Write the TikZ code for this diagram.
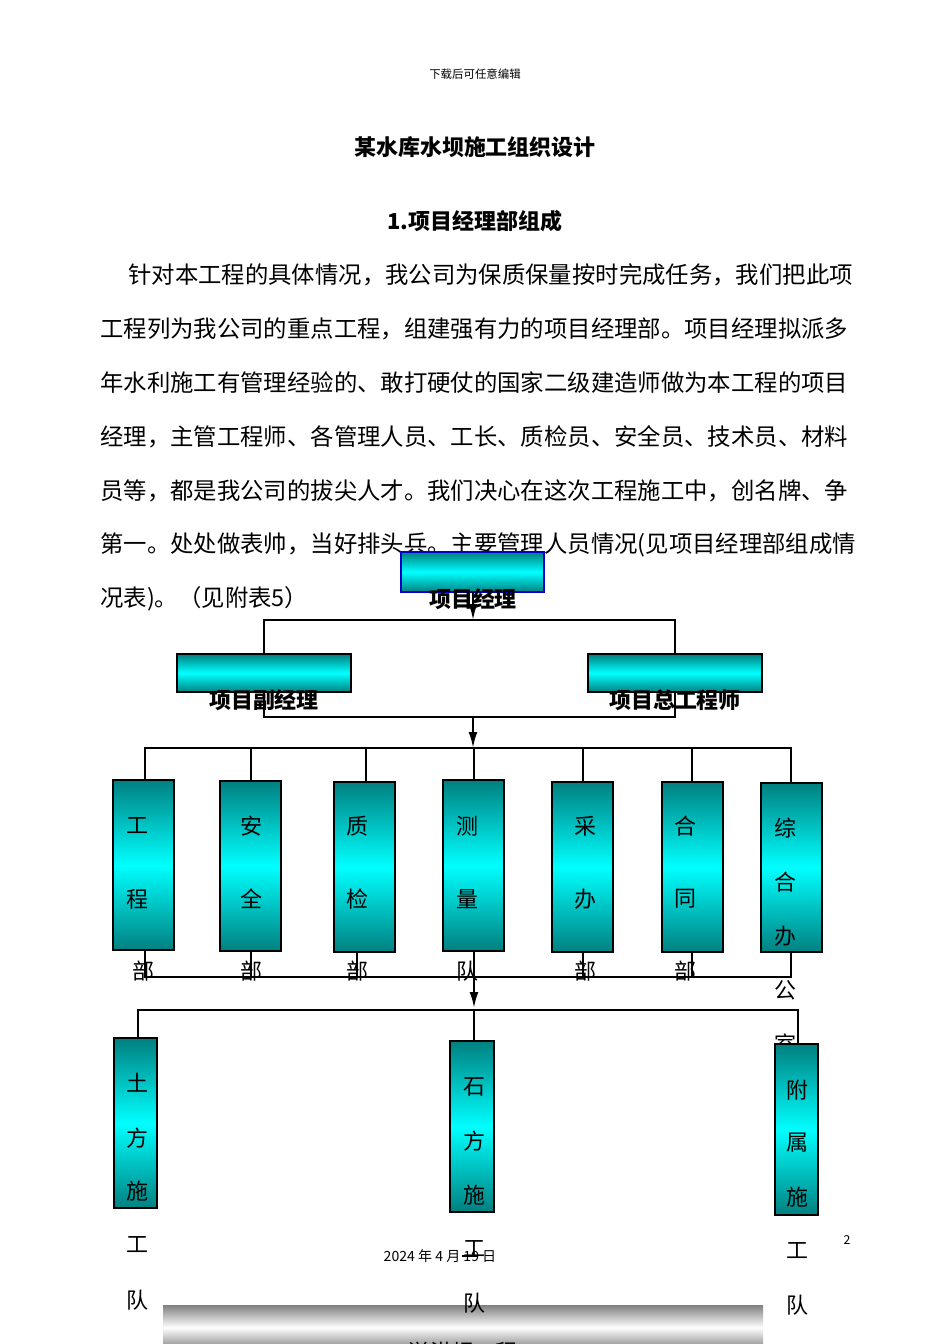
\documentclass[tikz,border=0pt]{standalone}
\usepackage{fontspec}
\setmainfont{Noto Sans CJK SC}
\usetikzlibrary{arrows.meta}
\begin{document}
\begin{tikzpicture}[x=0.02cm,y=-0.02cm,
  body/.style={anchor=west,inner sep=0pt,font=\fontsize{13.3pt}{14pt}\selectfont},
  gbox/.style={draw=black,line width=1.2pt,top color=teal,bottom color=teal,middle color=cyan,shading angle=0},
  lab/.style={inner sep=0pt,font=\fontsize{12.5pt}{13pt}\selectfont\bfseries},
  vch/.style={inner sep=0pt,font=\fontsize{12.5pt}{13pt}\selectfont},
  ln/.style={line width=1.2pt},
  arr/.style={line width=1.2pt,-{Latex[length=9pt,width=5pt]}}]
\useasboundingbox (0,0) rectangle (950,1344);
\begin{scope}
\clip (0,0) rectangle (950,1344);
\draw[draw=none,top color=gray,bottom color=gray,middle color=white,shading angle=0] (163,1305) rectangle (763,1350);
\node[inner sep=0pt,font=\fontsize{6.5pt}{7pt}\selectfont] (hd) at (475,74) {下载后可任意编辑};
\node[inner sep=0pt,font=\fontsize{12.5pt}{13pt}\selectfont\bfseries] (tt) at (475,147) {某水库水坝施工组织设计};
\node[inner sep=0pt,font=\fontsize{12.5pt}{13pt}\selectfont\bfseries] (st) at (475,221) {1.项目经理部组成};
\node[body] (l1) at (128,275) {针对本工程的具体情况，我公司为保质保量按时完成任务，我们把此项};
\node[body] (l2) at (100,329) {工程列为我公司的重点工程，组建强有力的项目经理部。项目经理拟派多};
\node[body] (l3) at (100,383) {年水利施工有管理经验的、敢打硬仗的国家二级建造师做为本工程的项目};
\node[body] (l4) at (100,437) {经理，主管工程师、各管理人员、工长、质检员、安全员、技术员、材料};
\node[body] (l5) at (100,491) {员等，都是我公司的拔尖人才。我们决心在这次工程施工中，创名牌、争};
\node[body] (l6) at (100,545) {第一。处处做表帅，当好排头兵。主要管理人员情况(见项目经理部组成情};
\node[body] (l7) at (100,599) {况表)。（见附表5）};

% top
\draw[line width=1.2pt,draw=blue!80!black,top color=teal,bottom color=teal,middle color=cyan,shading angle=0] (401,552) rectangle (544,592);
\coordinate (pmb) at (473,592);
\node[lab] (pm) at (473,599) {项目经理};
\coordinate (h1) at (473,620);
\draw[arr] (pmb) -- (h1);
\draw[ln] (264,653) -- (264,620) -- (675,620) -- (675,653);
\draw[gbox] (177,654) rectangle (351,692);
\draw[gbox] (588,654) rectangle (762,692);
\node[lab] (dm) at (264,700) {项目副经理};
\node[lab] (ce) at (675,700) {项目总工程师};
\draw[ln] (264,692) -- (264,717) -- (675,717) -- (675,692);
\coordinate (h2a) at (473,717);
\coordinate (h2b) at (473,748);
\draw[arr] (h2a) -- (h2b);
\draw[ln] (145,780) -- (145,748) -- (791,748) -- (791,783);
\foreach \x in {251,366,474,583,692} \draw[ln] (\x,748) -- (\x,781);
% departments
\foreach \a/\b/\t in {113/780/950,220/781/951,334/782/952,443/780/951,552/782/952,662/782/952,761/783/952}
  \draw[gbox] (\a,\b) rectangle (\a+61,\t);
\foreach \x/\c/\d in {137/工/程,251/安/全,357/质/检,467/测/量,585/采/办,685/合/同}{
  \node[vch] at (\x,826) {\c};
  \node[vch] at (\x,899) {\d};
}
\draw[ln] (145,950) -- (145,977) -- (791,977) -- (791,952);
\foreach \x/\y in {251/951,357/952,583/952,692/952} \draw[ln] (\x,\y) -- (\x,977);
\foreach \x/\e in {143/部,251/部,357/部,467/队,585/部,685/部} \node[vch] at (\x,971) {\e};
\foreach \y/\c in {828/综,882/合,936/办,990/公,1044/室} \node[vch] at (785,\y) {\c};
\coordinate (h3a) at (474,951);
\coordinate (h3b) at (474,1008);
\draw[arr] (h3a) -- (h3b);
\draw[ln] (138,1038) -- (138,1010) -- (798,1010) -- (798,1045);
\draw[ln] (474,1010) -- (474,1041);
\draw[gbox] (114,1038) rectangle (157,1208);
\draw[gbox] (450,1041) rectangle (494,1212);
\draw[gbox] (775,1044) rectangle (818,1215);
\foreach \y/\c in {1083/土,1138/方,1191/施,1245/工,1300/队} \node[vch] at (137,\y) {\c};
\foreach \y/\c in {1087/石,1141/方,1195/施,1249/工,1303/队} \node[vch] at (474,\y) {\c};
\foreach \y/\c in {1090/附,1143/属,1197/施,1251/工,1305/队} \node[vch] at (797,\y) {\c};
\node[inner sep=0pt,font=\fontsize{8pt}{9pt}\selectfont] (dt) at (440,1256) {2024 年 4 月 19 日};
\draw[line width=0.8pt] (462,1256) -- (478,1256);
\node[inner sep=0pt,font=\fontsize{7pt}{8pt}\selectfont] (pg) at (847,1240) {2};
\node[vch] (bt) at (463,1352) {溢洪坝工程};
\end{scope}
\end{tikzpicture}
\end{document}
